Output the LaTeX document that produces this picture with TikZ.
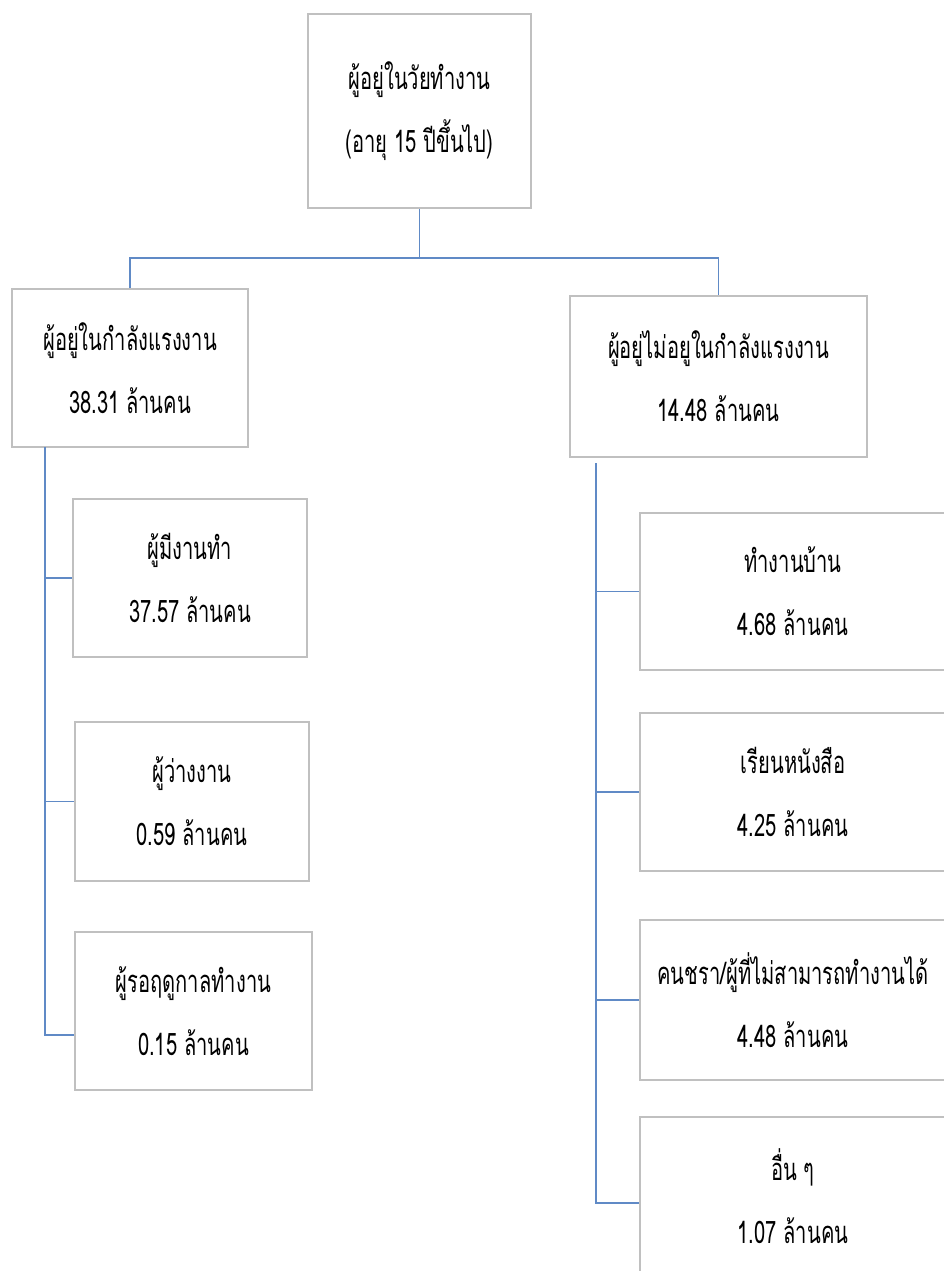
\documentclass[tikz,border=0pt]{standalone}
\usepackage{fontspec}
\newfontfamily\thaifont[Script=Thai,FakeStretch=0.65]{Loma}
\definecolor{linkblue}{RGB}{96,138,198}
\definecolor{boxgray}{RGB}{192,192,192}

\tikzset{
    box/.style={draw=boxgray, line width=1.5pt, align=center, inner sep=0pt,
        font=\thaifont\fontsize{31}{63}\selectfont},
    link/.style={draw=linkblue, line width=1.5pt}
}

\begin{document}
\begin{tikzpicture}[x=1pt, y=-1pt]
        \path[use as bounding box] (0,0) rectangle (944,1271);
        \clip (0,0) rectangle (944,1271);

        \coordinate (LS) at (45,447);
        \coordinate (RS) at (596,463);

        \node[box, minimum width=223, minimum height=194] (work) at (419.5,111) {ผู้อยู่ในวัยทำงาน\\(อายุ 15 ปีขึ้นไป)};

        \node[box, minimum width=236, minimum height=158] (force) at (130,368) {ผู้อยู่ในกำลังแรงงาน\\38.31 ล้านคน};
        \node[box, minimum width=297, minimum height=161] (outside) at (718.5,376.5) {ผู้อยู่ไม่อยูในกำลังแรงงาน\\14.48 ล้านคน};

        \node[box, minimum width=234, minimum height=158] (employed) at (190,578) {ผู้มีงานทำ\\37.57 ล้านคน};
        \node[box, minimum width=234, minimum height=159] (jobless) at (192,801.5) {ผู้ว่างงาน\\0.59 ล้านคน};
        \node[box, minimum width=237, minimum height=158] (seasonal) at (193.5,1011) {ผู้รอฤดูกาลทำงาน\\0.15 ล้านคน};

        \node[box, minimum width=306, minimum height=157] (house) at (793,591.5) {ทำงานบ้าน\\4.68 ล้านคน};
        \node[box, minimum width=306, minimum height=158] (study) at (793,792) {เรียนหนังสือ\\4.25 ล้านคน};
        \node[box, minimum width=306, minimum height=160] (elder) at (793,1000) {คนชรา/ผู้ที่ไม่สามารถทำงานได้\\4.48 ล้านคน};
        \node[box, minimum width=306, minimum height=158] (other) at (793,1196) {อื่น ๆ\\1.07 ล้านคน};

        \draw[link] (work.south) -- ++(0,49) coordinate (bus);
        \draw[link] (force.north) |- (bus) -| (outside.north);

        \draw[link] (LS) |- ([yshift=-24pt]seasonal.west);
        \draw[link] (LS |- employed.west) -- (employed.west);
        \draw[link] (LS |- jobless.west) -- (jobless.west);

        \draw[link] (RS) |- ([yshift=-7pt]other.west);
        \draw[link] (RS |- house.west) -- (house.west);
        \draw[link] (RS |- study.west) -- (study.west);
        \draw[link] (RS |- elder.west) -- (elder.west);

    \end{tikzpicture}
\end{document}
